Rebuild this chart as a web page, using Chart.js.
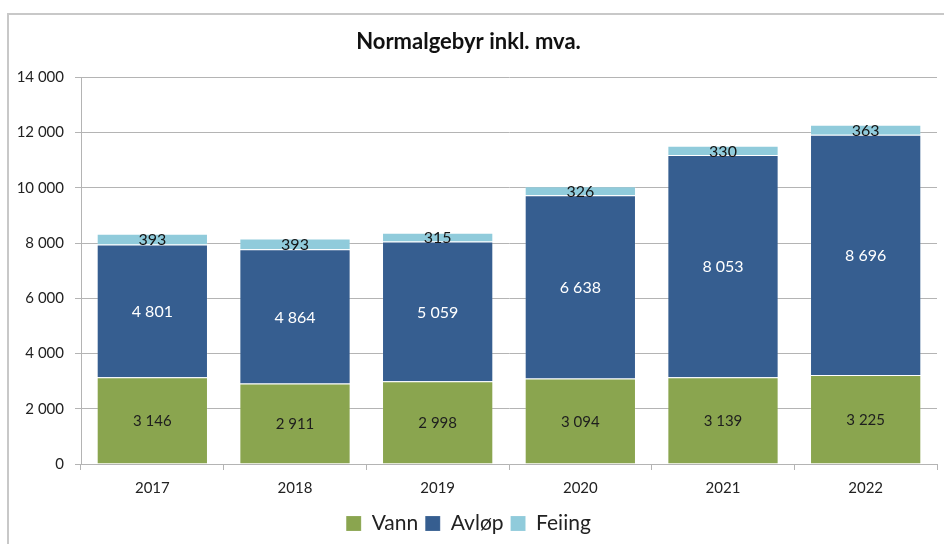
<!DOCTYPE html>
<html>
<head>
<meta charset="utf-8">
<script src="https://cdn.jsdelivr.net/npm/chart.js@4"></script>
<style>
  html, body { margin: 0; padding: 0; background: #fff; }
  #wrap { position: relative; width: 944px; height: 544px; overflow: hidden; }
  #frame { position: absolute; left: 7px; top: 13px; width: 960px; height: 560px;
           border-left: 2px solid #c8c8c8; border-top: 2px solid #c8c8c8; }
  canvas { position: absolute; left: 0; top: 0; }
</style>
</head>
<body>
<div id="wrap">
  <div id="frame"></div>
  <canvas id="myChart" width="944" height="544"></canvas>
</div>
<script>
'use strict';

// data
var years = ['2017', '2018', '2019', '2020', '2021', '2022'];
var vann = [3146, 2911, 2998, 3094, 3139, 3225];
var avlop = [4801, 4864, 5059, 6638, 8053, 8696];
var feiing = [393, 393, 315, 326, 330, 363];
var yTicks = [0, 2000, 4000, 6000, 8000, 10000, 12000, 14000];

var FONT = 'Lato, "Open Sans", sans-serif';

// 4801 -> "4 801"
function spaced(n) {
  return String(n).replace(/\B(?=(\d{3})+(?!\d))/g, ' ');
}

// draws the value inside each segment
var segmentLabels = {
  id: 'segmentLabels',
  afterDatasetsDraw: function(chart) {
    var ctx = chart.ctx;
    ctx.save();
    ctx.textAlign = 'center';
    ctx.textBaseline = 'middle';
    chart.data.datasets.forEach(function(ds, i) {
      var meta = chart.getDatasetMeta(i);
      ctx.fillStyle = ds.labelColor;
      ctx.font = ds.labelSize + 'px ' + FONT;
      meta.data.forEach(function(bar, j) {
        var p = bar.getCenterPoint();
        ctx.fillText(spaced(ds.data[j]), p.x, p.y + 1);
      });
    });
    ctx.restore();
  }
};

var ctx = document.getElementById('myChart').getContext('2d');
new Chart(ctx, {
  type: 'bar',
  data: {
    labels: years,
    datasets: [{
      label: 'Vann',
      data: vann,
      backgroundColor: '#8aa54f',
      borderColor: 'rgba(255,255,255,0.15)',
      borderWidth: 1,
      labelColor: '#1e1e1e',
      labelSize: 15
    }, {
      label: 'Avløp',
      data: avlop,
      backgroundColor: '#365e90',
      borderColor: 'rgba(255,255,255,0.15)',
      borderWidth: 1,
      labelColor: '#ffffff',
      labelSize: 16
    }, {
      label: 'Feiing',
      data: feiing,
      backgroundColor: '#90cbdb',
      borderColor: 'rgba(255,255,255,0.15)',
      borderWidth: 1,
      labelColor: '#141414',
      labelSize: 16
    }]
  },
  options: {
    responsive: false,
    animation: false,
    datasets: { bar: { barPercentage: 0.78, categoryPercentage: 1.0 } },
    layout: { padding: { left: 0, right: 7, top: 0, bottom: 0 } },
    plugins: {
      title: {
        display: true,
        text: 'Normalgebyr inkl. mva.',
        color: '#111',
        font: { family: FONT, size: 22, weight: 'bold' },
        padding: { top: 29, bottom: 22 }
      },
      legend: {
        position: 'bottom',
        labels: {
          color: '#222',
          font: { family: FONT, size: 21 },
          boxWidth: 15,
          boxHeight: 15,
          padding: 7
        }
      },
      tooltip: { enabled: false }
    },
    scales: {
      x: {
        stacked: true,
        grid: { drawOnChartArea: false, color: '#b4b4b4', tickLength: 6 },
        border: { color: '#b4b4b4' },
        ticks: { color: '#222', font: { family: FONT, size: 15 }, padding: 9 }
      },
      y: {
        stacked: true,
        min: 0,
        max: 14000,
        afterFit: function(s) { s.width = 81; },
        afterBuildTicks: function(s) {
          s.ticks = yTicks.map(function(v) { return { value: v }; });
        },
        grid: { color: '#b4b4b4', tickLength: 6 },
        border: { color: '#b4b4b4' },
        ticks: {
          color: '#222',
          font: { family: FONT, size: 15 },
          padding: 11,
          callback: function(v) { return spaced(v); }
        }
      }
    }
  },
  plugins: [segmentLabels]
});
</script>
</body>
</html>
